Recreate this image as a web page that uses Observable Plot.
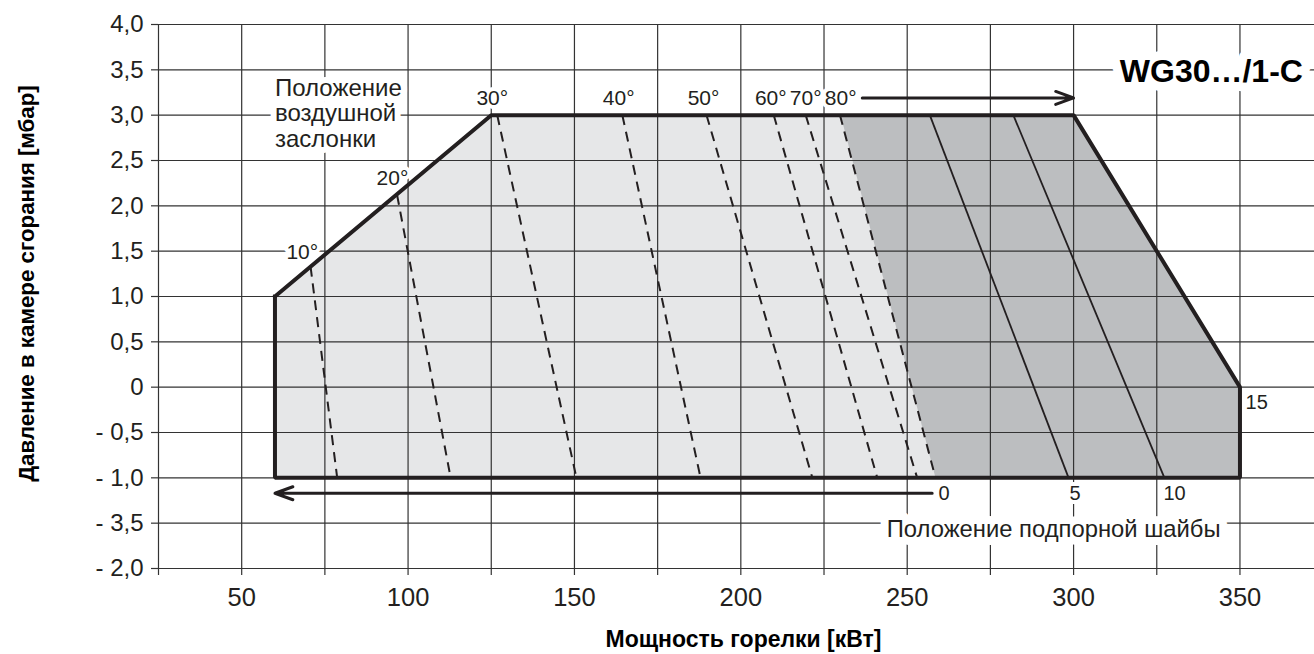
<!DOCTYPE html>
<html><head><meta charset="utf-8">
<script src="https://cdn.jsdelivr.net/npm/d3@7"></script>
<script src="https://cdn.jsdelivr.net/npm/@observablehq/plot@0.6"></script>
<style>html,body{margin:0;padding:0;background:#fff;} #chart svg{display:block}</style>
</head><body><div id="chart"></div>
<script>
// ---- data ----
const xGrid = [25,50,75,100,125,150,175,200,225,250,275,300,325,350];
const xTickLabels = [50,100,150,200,250,300,350];
const yTicks = [4,3.5,3,2.5,2,1.5,1,0.5,0,-0.5,-1,-1.5,-2];
const yTickLabels = ["4,0","3,5","3,0","2,5","2,0","1,5","1,0","0,5","0","- 0,5","- 1,0","- 3,5","- 2,0"];

// working field (burner power vs chamber pressure)
const fieldX = [60,125,300,350,350,60,60];
const fieldY = [1,3,3,0,-1,-1,1];
// dark zone: mixing-head washer in use
const washerX = [230,300,350,350,258.5];
const washerY = [3,3,0,-1,-1];

// air damper positions
const damperLabels = ["10°","20°","30°","40°","50°","60°","70°","80°"];
const damperTopX = [70.7,96.7,126.8,164.4,189.7,209.9,219.5,229.8];
const damperTopY = [1.33,2.12,3,3,3,3,3,3];
const damperBottomX = [78.7,112.8,150.6,187.9,221.5,241,253,258.5];
const damperBottomY = [-1,-1,-1,-1,-1,-1,-1,-1];
const damperLabelX = [68.2,95.3,125.3,163.3,188.8,209,219.5,230];
const damperLabelY = [1.49,2.30,3.19,3.19,3.19,3.19,3.19,3.19];

// washer positions
const washerLabels = ["0","5","10","15"];
const washerLineTopX = [256.8,281.9];
const washerLineBottomX = [298.5,327.3];
const washerLabelX = [259.4,298.8,327,351.7];
const washerLabelY = [-1.17,-1.17,-1.17,-0.17];

// arrows
const arrowX1 = [236.5,257.5];
const arrowX2 = [300,60];
const arrowY = [3.19,-1.17];

// texts
const notes = ["Положение\nвоздушной\nзаслонки","Положение подпорной шайбы"];
const notesX = [60,294];
const notesY = [3.02,-1.57];
const modelName = "WG30…/1-C";
const modelX = 341.4, modelY = 3.48;
const xTitle = "Мощность горелки [кВт]";
const yTitle = "Давление в камере сгорания [мбар]";

// ---- tables ----
const field = fieldX.map((x,i)=>({x, y: fieldY[i]}));
const washer = washerX.map((x,i)=>({x, y: washerY[i]}));
const dampers = damperLabels.map((l,i)=>({l, x1: damperTopX[i], y1: damperTopY[i], x2: damperBottomX[i], y2: damperBottomY[i], lx: damperLabelX[i], ly: damperLabelY[i]}));
const washerLines = washerLineTopX.map((x,i)=>({x1:x, y1:3, x2: washerLineBottomX[i], y2:-1}));
const washerTexts = washerLabels.map((l,i)=>({l, x: washerLabelX[i], y: washerLabelY[i]}));
const arrows = arrowX1.map((x,i)=>({x1:x, x2: arrowX2[i], y: arrowY[i]}));

const INK = "#231f20";
const GRID = "#333333";
const FONT = "'Liberation Sans', Arial, Helvetica, sans-serif";

const plot = Plot.plot({
  width: 1314, height: 654,
  marginLeft: 158, marginRight: 0, marginTop: 24, marginBottom: 86,
  style: {fontFamily: FONT, color: INK, background: "white", overflow: "visible"},
  x: {domain: [25, 372.4]},
  y: {domain: [-2, 4]},
  marks: [
    Plot.line(field, {x: "x", y: "y", fill: "#e6e7e8", stroke: "none"}),
    Plot.line(washer, {x: "x", y: "y", fill: "#bcbec0", stroke: "none"}),
    Plot.gridX(xGrid, {stroke: GRID, strokeOpacity: 1, strokeWidth: 1.2}),
    Plot.gridY(yTicks, {stroke: GRID, strokeOpacity: 1, strokeWidth: 1.2}),
    Plot.axisX({ticks: xGrid, tickSize: 7, tickPadding: 12, fontSize: 25.5, stroke: GRID, strokeWidth: 1.2,
      tickFormat: d => xTickLabels.includes(d) ? String(d) : "", label: null}),
    Plot.axisY({ticks: yTicks, tickSize: 7, tickPadding: 8, fontSize: 24, stroke: GRID, strokeWidth: 1.2,
      tickFormat: d => yTickLabels[yTicks.indexOf(d)], label: null}),
    // labels with white halo (interrupt grid)
    Plot.text(dampers, {x: "lx", y: "ly", text: "l", fontSize: 21, fill: INK, stroke: "white", strokeWidth: 8}),
    Plot.text(washerTexts, {x: "x", y: "y", text: "l", fontSize: 20, fill: INK, textAnchor: "start", stroke: "white", strokeWidth: 8}),
    Plot.text([notes[0]], {x: notesX[0], y: notesY[0], fontSize: 24, lineHeight: 1.05, textAnchor: "start", fill: INK, stroke: "white", strokeWidth: 12}),
    Plot.text([notes[1]], {x: notesX[1], y: notesY[1], fontSize: 23.8, fill: INK, stroke: "white", strokeWidth: 16}),
    Plot.text([modelName], {x: modelX, y: modelY, fontSize: 32, fontWeight: "bold", fill: "#000", stroke: "white", strokeWidth: 18}),
    // damper and washer lines
    Plot.link(dampers, {x1: "x1", y1: "y1", x2: "x2", y2: "y2", stroke: INK, strokeWidth: 2, strokeDasharray: "10,7"}),
    Plot.link(washerLines, {x1: "x1", y1: "y1", x2: "x2", y2: "y2", stroke: INK, strokeWidth: 1.8}),
    // outline
    Plot.line(field, {x: "x", y: "y", stroke: INK, strokeWidth: 4, strokeLinejoin: "miter", strokeLinecap: "square"}),
    // arrows
    Plot.arrow(arrows, {x1: "x1", y1: "y", x2: "x2", y2: "y", stroke: INK, strokeWidth: 3, headAngle: 40, headLength: 9.5}),
    // axis titles
    Plot.text([xTitle], {frameAnchor: "bottom", textAnchor: "middle", lineAnchor: "middle", dx: 7, dy: 71, fontSize: 23, fontWeight: "bold", fill: "#000"}),
    Plot.text([yTitle], {frameAnchor: "left", textAnchor: "middle", lineAnchor: "middle", rotate: -90, dx: -132, dy: -13, fontSize: 22.3, fontWeight: "bold", fill: "#000"})
  ]
});
document.getElementById("chart").appendChild(plot);
</script>
</body></html>
